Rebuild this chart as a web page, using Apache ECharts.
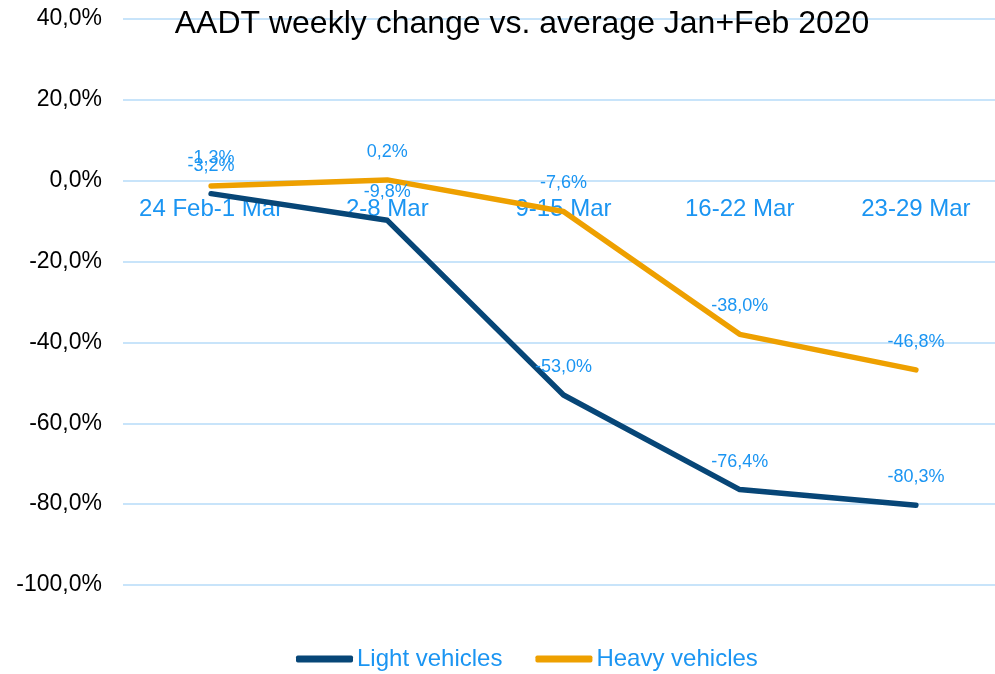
<!DOCTYPE html>
<html>
<head>
<meta charset="utf-8">
<script src="https://cdn.jsdelivr.net/npm/echarts@6/dist/echarts.min.js"></script>
<style>
  html, body { margin: 0; padding: 0; background: #fff; overflow: hidden; }
  #chart { width: 1010px; height: 674px; }
</style>
</head>
<body>
<div id="chart"></div>
<script>
  var weeks = ['24 Feb-1 Mar', '2-8 Mar', '9-15 Mar', '16-22 Mar', '23-29 Mar'];
  var lightVehicles = [-3.2, -9.8, -53.0, -76.4, -80.3];
  var heavyVehicles = [-1.3, 0.2, -7.6, -38.0, -46.8];

  var blueText = '#1b95f2';
  function pct(v) {
    return v.toFixed(1).replace('.', ',') + '%';
  }
  var dataLabel = {
    show: true, position: 'top', distance: 19,
    fontFamily: 'Liberation Sans', fontSize: 18, color: blueText,
    formatter: function (p) { return pct(p.value); }
  };

  // the chart is a bit wider than the window: the plot runs past its right edge
  var chart = echarts.init(document.getElementById('chart'));
  chart.setOption({
    animation: false,
    title: {
      text: 'AADT weekly change vs. average Jan+Feb 2020',
      left: 517,
      textAlign: 'center',
      top: 3,
      textStyle: { fontFamily: 'Liberation Sans', fontSize: 32, fontWeight: 'normal', color: '#000' }
    },
    legend: {
      top: 647,
      left: 296,
      padding: 0,
      icon: 'roundRect',
      itemWidth: 57,
      itemHeight: 7,
      itemGap: 33,
      textStyle: { fontFamily: 'Liberation Sans', fontSize: 24, color: blueText, padding: [0, 0, 0, -1] },
      data: ['Light vehicles', 'Heavy vehicles']
    },
    grid: { left: 123, right: 6, top: 19, height: 566 },
    xAxis: {
      type: 'category',
      data: weeks,
      offset: -405,
      axisLine: { show: false },
      axisTick: { show: false },
      axisLabel: { interval: 0, hideOverlap: false, margin: 17, fontFamily: 'Liberation Sans', fontSize: 24, color: blueText }
    },
    yAxis: {
      type: 'value',
      min: -100,
      max: 40,
      interval: 20,
      axisLine: { show: false },
      axisTick: { show: false },
      axisLabel: { margin: 21, fontFamily: 'Liberation Sans', fontSize: 23, color: '#000', formatter: pct },
      splitLine: { lineStyle: { color: '#c8e4fa', width: 2 } }
    },
    series: [
      {
        name: 'Light vehicles',
        type: 'line',
        data: lightVehicles,
        symbol: 'circle',
        symbolSize: 0,
        color: '#074677',
        lineStyle: { width: 5.5, cap: 'round', join: 'round' },
        label: dataLabel
      },
      {
        name: 'Heavy vehicles',
        type: 'line',
        data: heavyVehicles,
        symbol: 'circle',
        symbolSize: 0,
        color: '#eea000',
        lineStyle: { width: 5.5, cap: 'round', join: 'round' },
        label: dataLabel
      }
    ]
  });
</script>
</body>
</html>
